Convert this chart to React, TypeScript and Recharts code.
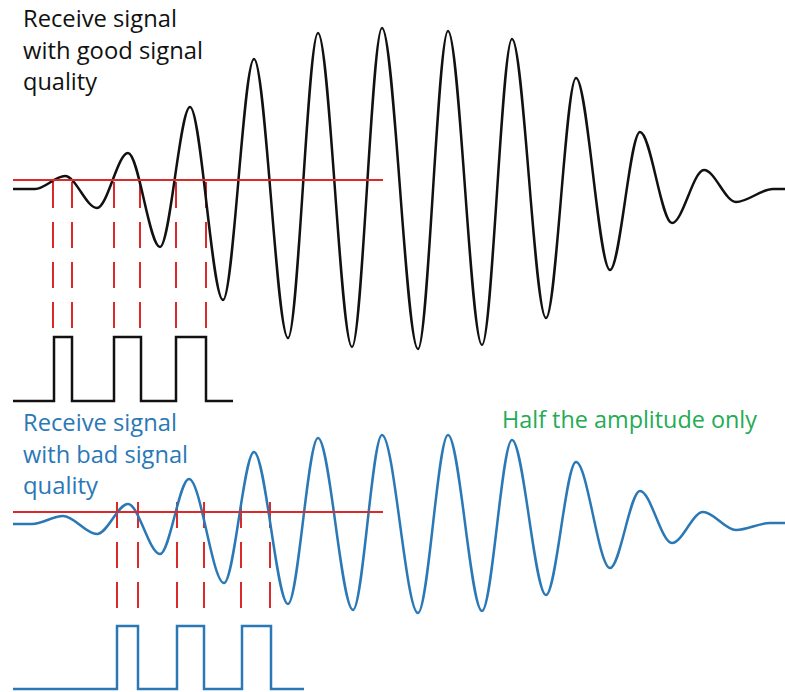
import { ComposedChart, Line, XAxis, YAxis, ReferenceLine } from 'recharts'

// time axis (sample index) and amplitudes
const GOOD_T = [13, 35, 65, 97, 128, 160, 190, 223, 254, 288, 318, 352, 382, 418, 448, 482, 512, 546, 576, 610, 640, 672, 704, 736, 773, 785]
const GOOD_V = [0, 0, 13, -19, 36, -58, 82, -111, 130, -149, 156, -158, 161, -160, 158, -156, 150, -129, 111, -81, 57, -34, 19, -13, 0, 0]

const BAD_T = [13, 32, 63, 97, 128, 160, 189, 224, 254, 288, 318, 353, 382, 418, 448, 482, 512, 546, 576, 610, 640, 672, 703, 736, 770, 785]
const BAD_V = [-1, -1, 7, -11, 19, -31, 44, -60, 71, -81, 85, -87, 88, -90, 88, -88, 83, -72, 61, -45, 32, -20, 11, -7, 0, 0]

// detector threshold
const GOOD_THRESHOLD = 9
const BAD_THRESHOLD = 11
const THRESHOLD_START = 13
const THRESHOLD_END = 383

// threshold crossings -> digital edges
const GOOD_CROSS = [53, 72, 114, 140, 176, 206]
const BAD_CROSS = [117, 138, 177, 204, 241, 270]

const GOOD_BITS_T = [13, 54, 72, 114, 141, 176, 206, 233]
const GOOD_BITS = [0, 1, 0, 1, 0, 1, 0, 0]
const BAD_BITS_T = [13, 117, 138, 177, 204, 242, 271, 304]
const BAD_BITS = [0, 1, 0, 1, 0, 1, 0, 0]

const GOOD_TITLE = ['Receive signal', 'with good signal', 'quality']
const BAD_TITLE = ['Receive signal', 'with bad signal', 'quality']
const NOTE = 'Half the amplitude only'

const zip = (t: number[], v: number[]) => t.map((x, i) => ({ t: x, v: v[i] }))

const goodWave = zip(GOOD_T, GOOD_V)
const badWave = zip(BAD_T, BAD_V)
const goodBits = zip(GOOD_BITS_T, GOOD_BITS)
const badBits = zip(BAD_BITS_T, BAD_BITS)

const W = 785
const H = 692
const RED = '#dc2a2a'
const BLUE = '#2a78b6'
const GREEN = '#25ab55'
const FONT = '"Open Sans", sans-serif'

export default function App() {
  return (
    <div style={{ position: 'absolute', left: 0, top: 0, width: W, height: H, background: '#fff' }}>
      <ComposedChart width={W} height={H} margin={{ top: 0, right: 0, bottom: 0, left: 0 }}>
        <XAxis dataKey="t" type="number" domain={[0, W]} allowDataOverflow hide />
        {/* analog axes: baseline of each trace sits where it does in the drawing */}
        <YAxis yAxisId="good" type="number" domain={[189 - H, 189]} allowDataOverflow hide />
        <YAxis yAxisId="bad" type="number" domain={[523 - H, 523]} allowDataOverflow hide />
        {/* digital axes: 0/1 levels */}
        <YAxis yAxisId="dGood" type="number" domain={[401 / 64 - H / 64, 401 / 64]} allowDataOverflow hide />
        <YAxis yAxisId="dBad" type="number" domain={[689 / 63 - H / 63, 689 / 63]} allowDataOverflow hide />

        {GOOD_CROSS.map((x) => (
          <ReferenceLine
            key={'g' + x}
            yAxisId="good"
            segment={[{ x, y: -139 }, { x, y: GOOD_THRESHOLD }]}
            stroke={RED}
            strokeWidth={2}
            strokeDasharray="26 14"
          />
        ))}
        {BAD_CROSS.map((x) => (
          <ReferenceLine
            key={'b' + x}
            yAxisId="bad"
            segment={[{ x, y: -85 }, { x, y: 23 }]}
            stroke={RED}
            strokeWidth={2}
            strokeDasharray="26 14"
          />
        ))}

        <Line data={goodWave} dataKey="v" yAxisId="good" type="monotone" stroke="#111" strokeWidth={2.5} dot={false} activeDot={false} isAnimationActive={false} />
        <Line data={badWave} dataKey="v" yAxisId="bad" type="monotone" stroke={BLUE} strokeWidth={2.5} dot={false} activeDot={false} isAnimationActive={false} />
        <Line data={goodBits} dataKey="v" yAxisId="dGood" type="stepAfter" stroke="#111" strokeWidth={2.5} dot={false} activeDot={false} isAnimationActive={false} />
        <Line data={badBits} dataKey="v" yAxisId="dBad" type="stepAfter" stroke={BLUE} strokeWidth={2.5} dot={false} activeDot={false} isAnimationActive={false} />

        <ReferenceLine
          yAxisId="good"
          segment={[{ x: THRESHOLD_START, y: GOOD_THRESHOLD }, { x: THRESHOLD_END, y: GOOD_THRESHOLD }]}
          stroke={RED}
          strokeWidth={2}
        />
        <ReferenceLine
          yAxisId="bad"
          segment={[{ x: THRESHOLD_START, y: BAD_THRESHOLD }, { x: THRESHOLD_END, y: BAD_THRESHOLD }]}
          stroke={RED}
          strokeWidth={2}
        />
      </ComposedChart>

      <svg width={W} height={H} style={{ position: 'absolute', left: 0, top: 0, pointerEvents: 'none' }}>
        <g fontFamily={FONT} fontSize={23}>
          {GOOD_TITLE.map((s, i) => (
            <text key={'gt' + i} x={23} y={27 + i * 31.5} fill="#111" textLength={[154, 180, 74][i]} lengthAdjust="spacingAndGlyphs">
              {s}
            </text>
          ))}
          {BAD_TITLE.map((s, i) => (
            <text key={'bt' + i} x={23} y={431 + i * 31.5} fill={BLUE} textLength={[154, 165, 75][i]} lengthAdjust="spacingAndGlyphs">
              {s}
            </text>
          ))}
          <text x={502} y={428} fill={GREEN} textLength={255} lengthAdjust="spacingAndGlyphs">
            {NOTE}
          </text>
        </g>
      </svg>
    </div>
  )
}
